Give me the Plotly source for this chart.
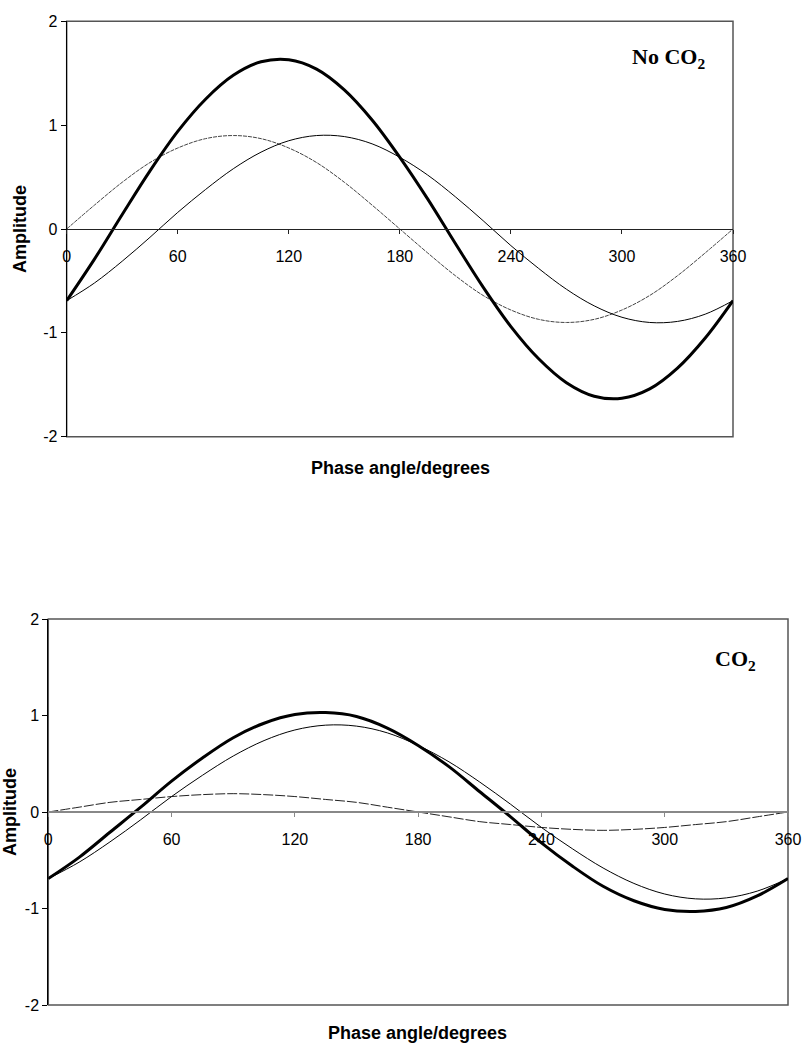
import plotly.graph_objects as go

phase = [0, 15, 30, 45, 60, 75, 90, 105, 120, 135, 150, 165, 180,
         195, 210, 225, 240, 255, 270, 285, 300, 315, 330, 345, 360]

# Top panel: No CO2
top_wave1 = [0, 0.23, 0.45, 0.64, 0.78, 0.87, 0.90, 0.87, 0.78, 0.64, 0.45, 0.23, 0,
             -0.23, -0.45, -0.64, -0.78, -0.87, -0.90, -0.87, -0.78, -0.64, -0.45, -0.23, 0]
top_wave2 = [-0.69, -0.52, -0.31, -0.08, 0.16, 0.38, 0.58, 0.74, 0.85, 0.90, 0.89, 0.82, 0.69,
             0.52, 0.31, 0.08, -0.16, -0.38, -0.58, -0.74, -0.85, -0.90, -0.89, -0.82, -0.69]
top_sum = [-0.69, -0.29, 0.14, 0.56, 0.94, 1.25, 1.48, 1.61, 1.63, 1.54, 1.34, 1.05, 0.69,
           0.29, -0.14, -0.56, -0.94, -1.25, -1.48, -1.61, -1.63, -1.54, -1.34, -1.05, -0.69]

# Bottom panel: CO2
bot_wave1 = [0, 0.05, 0.10, 0.13, 0.16, 0.18, 0.19, 0.18, 0.16, 0.13, 0.10, 0.05, 0,
             -0.05, -0.10, -0.13, -0.16, -0.18, -0.19, -0.18, -0.16, -0.13, -0.10, -0.05, 0]
bot_wave2 = [-0.69, -0.52, -0.31, -0.08, 0.16, 0.38, 0.58, 0.74, 0.85, 0.90, 0.89, 0.82, 0.69,
             0.52, 0.31, 0.08, -0.16, -0.38, -0.58, -0.74, -0.85, -0.90, -0.89, -0.82, -0.69]
bot_sum = [-0.69, -0.47, -0.21, 0.05, 0.32, 0.56, 0.77, 0.92, 1.01, 1.03, 0.99, 0.87, 0.69,
           0.47, 0.21, -0.05, -0.32, -0.56, -0.77, -0.92, -1.01, -1.03, -0.99, -0.87, -0.69]

x_ticks = [0, 60, 120, 180, 240, 300, 360]
x_tick_labels = ["0", "60", "120", "180", "240", "300", "360"]
y_ticks = [-2, -1, 0, 1, 2]
y_tick_labels = ["-2", "-1", "0", "1", "2"]

fig = go.Figure()

def add(x, y, xa, ya, width, color, dash):
    fig.add_trace(go.Scatter(x=x, y=y, xaxis=xa, yaxis=ya, mode="lines",
                             line=dict(width=width, color=color, dash=dash,
                                       shape="spline", smoothing=1.0),
                             showlegend=False, hoverinfo="skip"))

add(phase, top_wave1, "x", "y", 1, "#444444", "4px,1px")
add(phase, top_wave2, "x", "y", 1, "#000000", "solid")
add(phase, top_sum, "x", "y", 3, "#000000", "solid")

add(phase, bot_wave1, "x2", "y2", 1, "#222222", "10px,2px")
add(phase, bot_wave2, "x2", "y2", 1, "#000000", "solid")
add(phase, bot_sum, "x2", "y2", 3, "#000000", "solid")

W, H = 802, 1044
top_dom_x = [66.7 / W, 733 / W]
top_dom_y = [(H - 436.7) / H, (H - 21.3) / H]
bot_dom_x = [48.3 / W, 788 / W]
bot_dom_y = [(H - 1005) / H, (H - 619) / H]

tickfont = dict(family="Liberation Sans, Arial", size=16, color="black")

def xaxis_cfg(dom, ydom, col, lw):
    return dict(domain=dom, range=[0, 360], anchor="free",
                position=(ydom[0] + ydom[1]) / 2,
                tickvals=x_ticks, ticktext=x_tick_labels,
                showline=True, linecolor=col, linewidth=lw,
                ticks="outside", ticklen=4, tickcolor=col,
                ticklabelstandoff=9, automargin=False,
                showgrid=False, zeroline=False, tickfont=tickfont,
                fixedrange=True)

def yaxis_cfg(dom, anchor):
    return dict(domain=dom, range=[-2, 2], anchor=anchor,
                tickvals=y_ticks, ticktext=y_tick_labels,
                showline=True, linecolor="black", linewidth=1,
                ticks="outside", ticklen=5, tickcolor="black",
                automargin=False,
                showgrid=False, zeroline=False, tickfont=tickfont,
                fixedrange=True)

titlefont = dict(family="Liberation Sans, Arial", size=18, color="black")
labelfont = dict(family="Liberation Serif, Times New Roman", size=22, color="black")

fig.update_layout(
    width=W, height=H,
    margin=dict(l=0, r=0, t=0, b=0, autoexpand=False),
    paper_bgcolor="white", plot_bgcolor="white",
    xaxis=xaxis_cfg(top_dom_x, top_dom_y, "#222222", 1),
    yaxis=yaxis_cfg(top_dom_y, "x"),
    xaxis2=xaxis_cfg(bot_dom_x, bot_dom_y, "#888888", 2),
    yaxis2=yaxis_cfg(bot_dom_y, "x2"),
    shapes=[
        dict(type="rect", xref="x domain", yref="y domain", x0=0, x1=1, y0=0, y1=1,
             line=dict(color="#555555", width=1.5), layer="below"),
        dict(type="rect", xref="x2 domain", yref="y2 domain", x0=0, x1=1, y0=0, y1=1,
             line=dict(color="#555555", width=1.5), layer="below"),
    ],
    annotations=[
        dict(text="<b>No CO<sub>2</sub></b>", xref="x domain", yref="y domain",
             x=0.961, y=0.912, showarrow=False, font=labelfont,
             xanchor="right", yanchor="middle"),
        dict(text="<b>CO<sub>2</sub></b>", xref="x2 domain", yref="y2 domain",
             x=0.9595, y=0.894, showarrow=False, font=labelfont,
             xanchor="right", yanchor="middle"),
        dict(text="<b>Phase angle/degrees</b>", xref="paper", yref="paper",
             x=400 / W, y=(H - 468) / H, showarrow=False, font=titlefont,
             xanchor="center", yanchor="middle"),
        dict(text="<b>Phase angle/degrees</b>", xref="paper", yref="paper",
             x=418 / W, y=(H - 1033) / H, showarrow=False, font=titlefont,
             xanchor="center", yanchor="middle"),
        dict(text="<b>Amplitude</b>", xref="paper", yref="paper",
             x=20 / W, y=(H - 229) / H, showarrow=False, font=titlefont,
             textangle=-90, xanchor="center", yanchor="middle"),
        dict(text="<b>Amplitude</b>", xref="paper", yref="paper",
             x=10 / W, y=(H - 812) / H, showarrow=False, font=titlefont,
             textangle=-90, xanchor="center", yanchor="middle"),
    ],
)

fig.write_html("out.html")
